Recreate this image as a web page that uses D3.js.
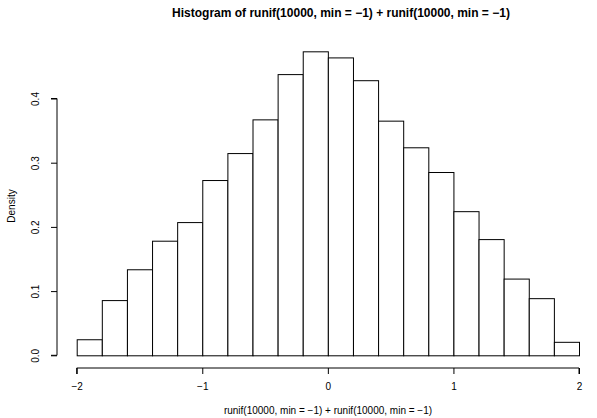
<!DOCTYPE html>
<html><head><meta charset="utf-8">
<script src="https://cdn.jsdelivr.net/npm/d3@7"></script>
<style>body{margin:0;background:#fff}svg{display:block}text{font-family:"Liberation Sans",Arial,sans-serif;fill:#000}</style>
</head><body>
<script>
const breaks = [-2,-1.8,-1.6,-1.4,-1.2,-1,-0.8,-0.6,-0.4,-0.2,0,0.2,0.4,0.6,0.8,1,1.2,1.4,1.6,1.8,2];
const density = [0.0250,0.0860,0.1340,0.1785,0.2075,0.2730,0.3150,0.3675,0.4380,0.4735,0.4640,0.4285,0.3655,0.3240,0.2855,0.2245,0.1810,0.1195,0.0890,0.0210];
const xTicks = [-2,-1,0,1,2];
const yTicks = [0,0.1,0.2,0.3,0.4];
const titleText = "Histogram of runif(10000, min = \u22121) + runif(10000, min = \u22121)";
const xLabel = "runif(10000, min = \u22121) + runif(10000, min = \u22121)";
const yLabel = "Density";

const W = 597, H = 418;
const svg = d3.select("body").append("svg").attr("width", W).attr("height", H);
const x = d3.scaleLinear().domain([-2, 2]).range([76.7, 579]);
const y = d3.scaleLinear().domain([0, 0.4]).range([355.3, 98.5]);
const fmtMinus = s => String(s).replace("-", "\u2212");

const bins = density.map((d, i) => ({x0: breaks[i], x1: breaks[i+1], d}));
svg.append("g").selectAll("rect").data(bins).join("rect")
  .attr("x", b => x(b.x0) + 0.5).attr("width", b => x(b.x1) - x(b.x0))
  .attr("y", b => y(b.d) + 0.5).attr("height", b => y(0) - y(b.d))
  .attr("fill", "#fff").attr("stroke", "#000").attr("stroke-width", 1);

// x axis
const xa = svg.append("g").attr("transform", "translate(0,368)")
  .call(d3.axisBottom(x).tickValues(xTicks).tickSize(6).tickPadding(9).tickFormat(fmtMinus));
xa.selectAll("text").style("font-size", "10px").attr("font-family", "Liberation Sans, Arial, sans-serif");
xa.select(".domain").attr("d", `M${x(-2)},6V0H${x(2)}V6`);

// y axis
const ya = svg.append("g").attr("transform", "translate(57,0)")
  .call(d3.axisLeft(y).tickValues(yTicks).tickSize(6).tickFormat(d3.format(".1f")));
ya.select(".domain").attr("d", `M-6,${y(0)}H0V${y(0.4)}H-6`);
ya.selectAll(".tick text")
  .attr("x", 0).attr("dy", null).attr("text-anchor", "middle")
  .attr("transform", "translate(-18,0) rotate(-90)")
  .style("font-size", "10px").attr("font-family", "Liberation Sans, Arial, sans-serif");
svg.selectAll(".tick line, .domain").attr("stroke", "#000");

svg.append("text").attr("x", 341).attr("y", 17).attr("text-anchor", "middle")
  .style("font-size", "12px").style("font-weight", "bold").text(titleText);
svg.append("text").attr("x", 328).attr("y", 414).attr("text-anchor", "middle")
  .style("font-size", "10px").text(xLabel);
svg.append("text").attr("transform", "translate(15,206) rotate(-90)").attr("text-anchor", "middle")
  .style("font-size", "10px").text(yLabel);
</script>
</body></html>
